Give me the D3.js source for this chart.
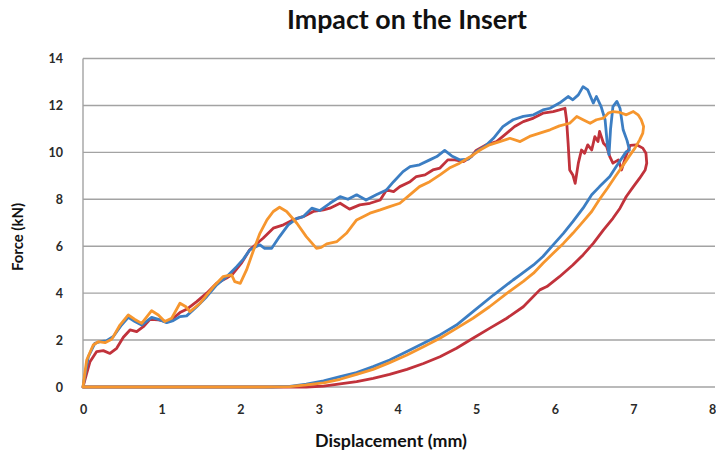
<!DOCTYPE html>
<html>
<head>
<meta charset="utf-8">
<script src="https://cdn.jsdelivr.net/npm/d3@7"></script>
<style>
  html, body { margin: 0; padding: 0; background: #fff; }
  svg { display: block; }
  text { font-family: Lato, "Open Sans", sans-serif; }
</style>
</head>
<body>
<svg id="chart" width="716" height="459"></svg>
<script>
// ---------- data ----------
const xTicks = [0, 1, 2, 3, 4, 5, 6, 7, 8];
const yTicks = [0, 2, 4, 6, 8, 10, 12, 14];

const blueX = [0,0.03,0.068,0.15,0.216,0.3,0.386,0.49,0.576,0.66,0.746,0.873,0.98,1.064,1.148,1.233,1.318,1.446,1.573,1.7,1.827,1.954,2.04,2.12,2.25,2.31,2.4,2.5,2.61,2.72,2.8,2.91,3.01,3.14,3.27,3.37,3.48,3.6,3.73,3.86,3.95,4.07,4.16,4.28,4.41,4.5,4.6,4.69,4.79,4.9,5.0,5.11,5.22,5.34,5.47,5.6,5.73,5.85,5.94,6.06,6.17,6.23,6.3,6.36,6.42,6.49,6.53,6.59,6.64,6.67,6.69,6.71,6.74,6.79,6.83,6.87,6.92,6.95,6.91,6.78,6.70,6.57,6.47,6.36,6.23,6.11,5.98,5.85,5.73,5.56,5.47,5.22,4.96,4.75,4.54,4.33,4.12,3.9,3.69,3.48,3.27,3.06,2.84,2.63,2.4,0];
const blueY = [0,0.6,1.29,1.86,1.93,1.97,2.15,2.64,2.97,2.79,2.64,2.97,2.86,2.74,2.83,3.0,3.03,3.42,3.85,4.35,4.7,5.13,5.45,5.84,6.06,5.91,5.91,6.41,6.91,7.19,7.26,7.62,7.52,7.83,8.11,8.0,8.19,7.97,8.19,8.4,8.75,9.18,9.39,9.47,9.68,9.82,10.08,9.85,9.68,9.71,10.03,10.25,10.6,11.1,11.39,11.53,11.6,11.81,11.88,12.1,12.38,12.24,12.45,12.8,12.66,12.1,12.38,11.95,11.39,10.3,9.9,11.0,11.95,12.17,11.88,10.96,10.5,10.1,10.03,9.39,8.97,8.54,8.19,7.62,7.05,6.55,6.06,5.56,5.2,4.78,4.56,3.92,3.21,2.64,2.22,1.86,1.51,1.15,0.87,0.61,0.44,0.26,0.12,0.03,0,0];

const redX = [0,0.04,0.089,0.174,0.258,0.343,0.428,0.513,0.598,0.683,0.767,0.852,0.958,1.064,1.148,1.233,1.318,1.446,1.573,1.7,1.827,1.9,2.02,2.12,2.29,2.42,2.55,2.67,2.8,2.93,3.06,3.14,3.27,3.39,3.52,3.65,3.78,3.86,3.95,4.03,4.16,4.24,4.35,4.45,4.54,4.64,4.73,4.84,4.94,5.0,5.13,5.26,5.39,5.49,5.6,5.73,5.85,5.98,6.06,6.13,6.15,6.17,6.19,6.23,6.26,6.3,6.34,6.38,6.42,6.47,6.51,6.55,6.57,6.62,6.66,6.70,6.74,6.81,6.85,6.9,6.96,7.04,7.12,7.16,7.17,7.15,7.08,7.0,6.91,6.83,6.74,6.62,6.49,6.36,6.23,6.06,5.9,5.81,5.6,5.39,5.17,4.96,4.75,4.54,4.33,4.12,3.9,3.69,3.48,3.27,3.06,2.84,0];
const redY = [0,0.5,1.08,1.51,1.55,1.43,1.65,2.12,2.43,2.36,2.57,2.88,2.86,2.79,2.93,3.17,3.31,3.64,4.0,4.42,4.64,4.8,5.3,5.85,6.34,6.77,6.91,7.12,7.26,7.48,7.55,7.62,7.83,7.58,7.76,7.83,7.97,8.4,8.33,8.54,8.75,8.97,9.04,9.25,9.33,9.68,9.68,9.61,9.82,10.08,10.32,10.46,10.82,11.1,11.31,11.46,11.67,11.74,11.81,11.88,11.39,10.39,9.25,9.04,8.68,9.54,10.1,9.96,10.32,10.1,10.67,10.46,10.89,10.39,10.25,9.82,9.54,9.68,9.25,9.8,10.3,10.32,10.18,9.96,9.54,9.25,8.9,8.54,8.12,7.62,7.19,6.7,6.12,5.63,5.2,4.7,4.28,4.14,3.42,2.93,2.5,2.08,1.65,1.29,1.0,0.75,0.54,0.37,0.23,0.13,0.04,0,0];

const orangeX = [0,0.02,0.047,0.13,0.195,0.28,0.365,0.47,0.576,0.66,0.746,0.873,0.958,1.04,1.128,1.233,1.31,1.36,1.49,1.66,1.78,1.89,1.93,2.0,2.08,2.17,2.25,2.34,2.42,2.5,2.59,2.72,2.84,2.97,3.03,3.1,3.23,3.35,3.48,3.65,3.78,3.9,4.03,4.16,4.28,4.41,4.54,4.66,4.79,4.92,5.05,5.17,5.3,5.43,5.56,5.68,5.81,5.94,6.06,6.19,6.28,6.36,6.45,6.53,6.62,6.68,6.74,6.83,6.91,7.0,7.06,7.1,7.13,7.12,7.08,7.02,6.95,6.87,6.77,6.67,6.57,6.47,6.36,6.23,6.11,5.98,5.85,5.73,5.6,5.39,5.17,4.96,4.75,4.54,4.33,4.12,3.9,3.69,3.48,3.27,3.06,2.84,2.63,2.3,0];
const orangeY = [0,0.5,1.15,1.79,1.93,1.89,2.03,2.64,3.07,2.88,2.71,3.25,3.07,2.79,2.93,3.57,3.42,3.21,3.57,4.28,4.7,4.78,4.49,4.42,4.99,5.84,6.55,7.12,7.48,7.66,7.48,6.98,6.41,5.91,5.95,6.1,6.2,6.55,7.12,7.41,7.55,7.69,7.83,8.2,8.54,8.75,9.04,9.33,9.54,9.8,10.1,10.32,10.46,10.6,10.46,10.68,10.82,10.96,11.13,11.24,11.53,11.39,11.24,11.39,11.46,11.67,11.74,11.7,11.6,11.74,11.6,11.39,11.1,10.82,10.53,10.18,9.85,9.45,8.97,8.47,8.0,7.48,7.05,6.55,6.12,5.7,5.27,4.85,4.5,3.99,3.42,2.93,2.5,2.08,1.72,1.36,1.04,0.75,0.54,0.33,0.18,0.09,0.02,0,0];

const seriesNames = ["red", "blue", "orange"];
const seriesColors = { red: "#c1323b", blue: "#3c7ec3", orange: "#f6962e" };

// ---------- layout ----------
const svg = d3.select("#chart");
const mLeft = 83, mRight = 712, mTop = 58.5, mBottom = 387;

const x = d3.scaleLinear().domain([0, 8]).range([mLeft, mRight]);
const y = d3.scaleLinear().domain([0, 14]).range([mBottom, mTop]);

function fit(sel, width) {
  const w = sel.node().getComputedTextLength();
  const fs = parseFloat(sel.attr("font-size"));
  if (w > 0) sel.attr("font-size", fs * width / w);
}

// grid lines
svg.append("g")
  .selectAll("line")
  .data(yTicks)
  .join("line")
  .attr("x1", mLeft).attr("x2", mRight + 3)
  .attr("y1", d => y(d)).attr("y2", d => y(d))
  .attr("stroke", "#a3a3a3").attr("stroke-width", 1.4);

// left axis line
svg.append("line")
  .attr("x1", mLeft).attr("x2", mLeft)
  .attr("y1", y(14)).attr("y2", y(0))
  .attr("stroke", "#a3a3a3").attr("stroke-width", 1.4);

// y tick labels
const yAxis = d3.axisLeft(y).tickValues(yTicks).tickSize(0).tickPadding(0).tickFormat(d3.format("d"));
const gy = svg.append("g").attr("transform", `translate(${mLeft - 20},0)`).call(yAxis);
gy.select(".domain").remove();
gy.selectAll("text").attr("font-size", 12.5).attr("font-weight", 700).attr("fill", "#2a2a2a")
  .attr("font-family", "Lato, sans-serif").attr("dy", "0.35em");

// x tick labels
const xAxis = d3.axisBottom(x).tickValues(xTicks).tickSize(0).tickPadding(0).tickFormat(d3.format("d"));
const gx = svg.append("g").attr("transform", `translate(0,${mBottom + 18})`).call(xAxis);
gx.select(".domain").remove();
gx.selectAll("text").attr("font-size", 12.5).attr("font-weight", 700).attr("fill", "#2a2a2a")
  .attr("font-family", "Lato, sans-serif").attr("dy", "0.71em");

// lines
const line = d3.line().x(d => x(d[0])).y(d => y(d[1]));
const data = {
  blue: d3.zip(blueX, blueY),
  red: d3.zip(redX, redY),
  orange: d3.zip(orangeX, orangeY)
};
svg.append("g").selectAll("path")
  .data(seriesNames)
  .join("path")
  .attr("d", k => line(data[k]))
  .attr("fill", "none")
  .attr("stroke", k => seriesColors[k])
  .attr("stroke-width", 2.8)
  .attr("stroke-linejoin", "round")
  .attr("stroke-linecap", "round");

// title
const title = svg.append("text")
  .attr("x", 407).attr("y", 29)
  .attr("text-anchor", "middle")
  .attr("font-size", 22).attr("font-weight", 700).attr("fill", "#111")
  .text("Impact on the Insert");
fit(title, 240);

// x label
const xl = svg.append("text")
  .attr("x", 391).attr("y", 447)
  .attr("text-anchor", "middle")
  .attr("font-size", 14).attr("font-weight", 700).attr("fill", "#111")
  .text("Displacement  (mm)");
fit(xl, 152);

// y label
const yl = svg.append("text")
  .attr("transform", "translate(23,237) rotate(-90)")
  .attr("text-anchor", "middle")
  .attr("font-size", 15).attr("font-weight", 700).attr("fill", "#111")
  .text("Force (kN)");
fit(yl, 68);
</script>
</body>
</html>
